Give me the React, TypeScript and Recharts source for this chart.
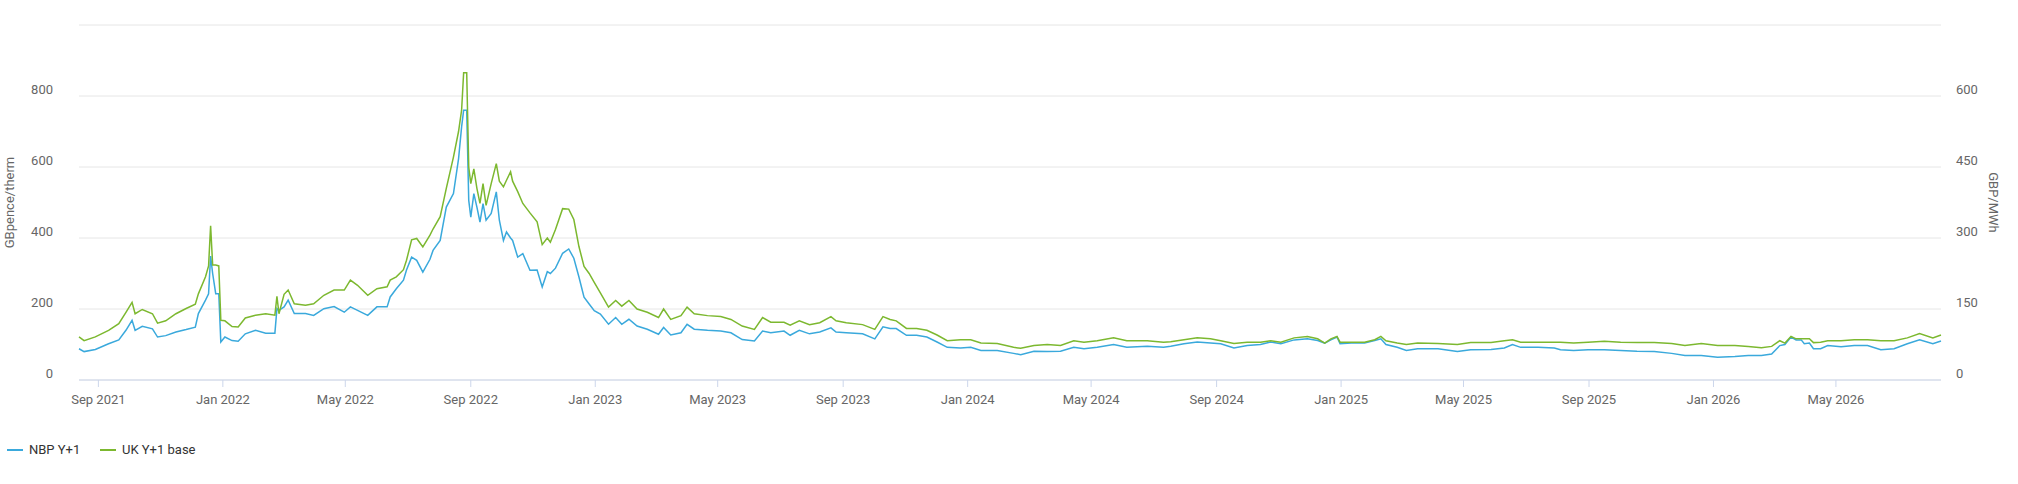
import { LineChart, Line, XAxis, YAxis, CartesianGrid } from "recharts";

// trading dates
const dates = [
  "2021-08-13", "2021-08-18", "2021-08-29", "2021-09-11", "2021-09-21", "2021-09-28", "2021-10-04", "2021-10-07",
  "2021-10-14", "2021-10-24", "2021-10-29", "2021-11-06", "2021-11-16", "2021-11-26", "2021-12-05", "2021-12-08",
  "2021-12-15", "2021-12-18", "2021-12-20", "2021-12-22", "2021-12-25", "2021-12-28", "2021-12-30", "2022-01-03",
  "2022-01-10", "2022-01-16", "2022-01-23", "2022-02-02", "2022-02-12", "2022-02-21", "2022-02-23", "2022-02-25",
  "2022-03-02", "2022-03-06", "2022-03-12", "2022-03-23", "2022-03-31", "2022-04-10", "2022-04-20", "2022-04-30",
  "2022-05-06", "2022-05-13", "2022-05-23", "2022-06-01", "2022-06-11", "2022-06-14", "2022-06-20", "2022-06-27",
  "2022-06-30", "2022-07-05", "2022-07-10", "2022-07-16", "2022-07-23", "2022-07-26", "2022-08-02", "2022-08-08",
  "2022-08-15", "2022-08-20", "2022-08-23", "2022-08-25", "2022-08-28", "2022-08-30", "2022-09-01", "2022-09-04",
  "2022-09-07", "2022-09-10", "2022-09-13", "2022-09-16", "2022-09-21", "2022-09-26", "2022-09-29", "2022-10-03",
  "2022-10-06", "2022-10-10", "2022-10-12", "2022-10-17", "2022-10-22", "2022-10-29", "2022-11-05", "2022-11-10",
  "2022-11-15", "2022-11-18", "2022-11-23", "2022-11-30", "2022-12-06", "2022-12-11", "2022-12-16", "2022-12-21",
  "2022-12-26", "2022-12-31", "2023-01-06", "2023-01-14", "2023-01-21", "2023-01-27", "2023-02-03", "2023-02-11",
  "2023-02-21", "2023-03-04", "2023-03-09", "2023-03-16", "2023-03-26", "2023-04-01", "2023-04-08", "2023-04-21",
  "2023-05-04", "2023-05-14", "2023-05-25", "2023-06-06", "2023-06-14", "2023-06-22", "2023-07-05", "2023-07-11",
  "2023-07-20", "2023-07-30", "2023-08-09", "2023-08-20", "2023-08-25", "2023-09-04", "2023-09-20", "2023-10-02",
  "2023-10-10", "2023-10-17", "2023-10-23", "2023-11-02", "2023-11-12", "2023-11-22", "2023-12-02", "2023-12-12",
  "2023-12-25", "2024-01-04", "2024-01-14", "2024-01-30", "2024-02-15", "2024-02-22", "2024-03-06", "2024-03-19",
  "2024-04-01", "2024-04-14", "2024-04-24", "2024-05-07", "2024-05-23", "2024-06-05", "2024-06-25", "2024-07-11",
  "2024-07-18", "2024-07-31", "2024-08-13", "2024-08-26", "2024-09-05", "2024-09-18", "2024-10-01", "2024-10-14",
  "2024-10-24", "2024-11-03", "2024-11-16", "2024-11-29", "2024-12-09", "2024-12-16", "2024-12-22", "2024-12-28",
  "2024-12-31", "2025-01-11", "2025-01-24", "2025-02-03", "2025-02-09", "2025-02-14", "2025-02-25", "2025-03-06",
  "2025-03-17", "2025-04-06", "2025-04-25", "2025-05-08", "2025-05-28", "2025-06-10", "2025-06-18", "2025-06-26",
  "2025-07-13", "2025-07-29", "2025-08-04", "2025-08-17", "2025-08-31", "2025-09-16", "2025-10-02", "2025-10-18",
  "2025-11-04", "2025-11-21", "2025-12-04", "2025-12-20", "2026-01-05", "2026-01-22", "2026-02-04", "2026-02-17",
  "2026-02-27", "2026-03-07", "2026-03-12", "2026-03-18", "2026-03-23", "2026-03-28", "2026-03-31", "2026-04-05",
  "2026-04-09", "2026-04-16", "2026-04-23", "2026-05-06", "2026-05-19", "2026-06-01", "2026-06-14", "2026-06-27",
  "2026-07-10", "2026-07-22", "2026-08-04", "2026-08-12",
];

// GBpence/therm
const nbpY1 = [
  88, 80, 86, 102, 113, 140, 168, 140, 151, 144, 121, 125, 135, 142, 149, 187,
  225, 243, 349, 300, 243, 243, 107, 121, 111, 109, 130, 140, 132, 132, 201, 196,
  206, 225, 187, 187, 182, 201, 207, 191, 206, 196, 182, 206, 206, 234, 257, 281,
  310, 346, 337, 304, 340, 365, 393, 487, 525, 623, 713, 760, 760, 506, 459, 525,
  487, 445, 497, 450, 469, 530, 450, 393, 417, 400, 393, 346, 356, 309, 310, 262,
  305, 300, 315, 357, 369, 343, 290, 233, 214, 195, 186, 157, 176, 157, 171, 152,
  143, 129, 148, 127, 133, 157, 143, 140, 138, 133, 114, 110, 138, 133, 138, 126,
  140, 130, 135, 147, 135, 133, 130, 116, 150, 145, 145, 126, 126, 121, 107, 92,
  90, 92, 83, 83, 75, 71, 81, 80, 81, 92, 88, 92, 100, 92, 95, 92,
  95, 102, 107, 104, 102, 90, 97, 100, 107, 102, 113, 116, 111, 104, 113, 121,
  102, 104, 104, 111, 116, 100, 92, 83, 88, 88, 80, 85, 86, 90, 100, 92,
  92, 90, 85, 83, 85, 85, 83, 81, 80, 75, 69, 69, 64, 66, 69, 69,
  73, 97, 100, 121, 113, 113, 102, 104, 88, 88, 97, 94, 97, 97, 85, 88,
  102, 113, 102, 110,
];

// GBP/MWh
const ukY1Base = [
  91, 83, 91, 105, 119, 143, 164, 140, 149, 140, 120, 125, 140, 151, 160, 182,
  218, 241, 326, 243, 243, 241, 126, 125, 113, 112, 131, 137, 140, 137, 177, 140,
  181, 190, 161, 158, 161, 179, 190, 190, 211, 200, 179, 193, 197, 211, 218, 233,
  253, 296, 299, 281, 306, 319, 345, 405, 471, 525, 570, 649, 649, 450, 415, 446,
  405, 373, 415, 369, 415, 457, 420, 408, 422, 440, 420, 398, 373, 353, 334, 286,
  300, 291, 318, 362, 361, 339, 282, 240, 225, 206, 184, 154, 168, 156, 168, 150,
  143, 132, 150, 128, 136, 154, 140, 136, 134, 128, 114, 107, 132, 122, 122, 116,
  125, 117, 121, 134, 125, 121, 117, 107, 134, 128, 125, 109, 109, 105, 95, 83,
  85, 85, 78, 77, 69, 67, 73, 75, 73, 83, 80, 83, 89, 83, 83, 80,
  81, 85, 89, 87, 83, 77, 80, 80, 83, 80, 89, 92, 87, 78, 87, 92,
  80, 80, 80, 85, 92, 83, 78, 75, 78, 77, 75, 79, 79, 83, 85, 80,
  80, 80, 80, 78, 80, 82, 80, 79, 79, 77, 73, 77, 73, 73, 71, 68,
  71, 83, 78, 92, 87, 87, 87, 87, 79, 80, 83, 83, 85, 85, 83, 83,
  89, 98, 89, 95,
];

const xTickDates = [
  "2021-09-01", "2022-01-01", "2022-05-01", "2022-09-01", "2023-01-01", "2023-05-01", "2023-09-01", "2024-01-01",
  "2024-05-01", "2024-09-01", "2025-01-01", "2025-05-01", "2025-09-01", "2026-01-01", "2026-05-01",
];
const leftTicks = [0, 200, 400, 600, 800, 1000];
const rightTicks = [0, 150, 300, 450, 600, 750];
const monthNames = ["Jan", "Feb", "Mar", "Apr", "May", "Jun", "Jul", "Aug", "Sep", "Oct", "Nov", "Dec"];

const data = dates.map((d, i) => ({ t: Date.parse(d), nbp: nbpY1[i], uk: ukY1Base[i] }));

const fmtMonth = (t: number) => {
  const d = new Date(t);
  return `${monthNames[d.getUTCMonth()]} ${d.getUTCFullYear()}`;
};

function YTick(props: any) {
  const { x, y, payload, textAnchor, hide } = props;
  if (payload.value === hide) return <g />;
  return (
    <text x={x} y={y - 2} textAnchor={textAnchor} fill="#666" fontSize={13} fontFamily="Roboto">
      {payload.value}
    </text>
  );
}

function AxisTitle(props: any) {
  const { viewBox, value, side } = props;
  const vb = viewBox ?? (side === "left" ? { x: 0, y: 25, width: 79, height: 355 } : { x: 1941, y: 25, width: 77, height: 355 });
  const cx = side === "left" ? vb.x + 14 : vb.x + 48;
  const cy = vb.y + vb.height / 2;
  return (
    <text
      x={cx}
      y={cy}
      transform={`rotate(${side === "left" ? -90 : 90} ${cx} ${cy})`}
      textAnchor="middle"
      fill="#666"
      fontSize={13}
      fontFamily="Roboto"
    >
      {value}
    </text>
  );
}

function LegendItem({ color, text, width }: { color: string; text: string; width: number }) {
  return (
    <div style={{ display: "flex", alignItems: "center", width }}>
      <div style={{ width: 16, height: 2, background: color, marginRight: 6 }} />
      <span>{text}</span>
    </div>
  );
}

export default function App() {
  return (
    <div style={{ position: "relative", width: 2018, height: 484, fontFamily: "Roboto", background: "#fff" }}>
      <style>{"body{margin:0}"}</style>
      <LineChart width={2018} height={430} data={data} margin={{ top: 25, right: 0, bottom: 10, left: 0 }}>
        <CartesianGrid yAxisId="left" vertical={false} stroke="#e6e6e6" />
        <XAxis
          dataKey="t"
          type="number"
          scale="time"
          domain={["dataMin", "dataMax"]}
          ticks={xTickDates.map((d) => Date.parse(d))}
          interval={0}
          tickFormatter={fmtMonth}
          height={40}
          tickSize={7}
          tickMargin={8}
          stroke="#ccd6eb"
          tick={{ fill: "#666", fontSize: 13, fontFamily: "Roboto" }}
        />
        <YAxis
          yAxisId="left"
          orientation="left"
          width={79}
          domain={[0, 1000]}
          ticks={leftTicks}
          axisLine={false}
          tickLine={false}
          tickSize={0}
          tickMargin={26}
          tick={(p: any) => <YTick {...p} hide={1000} />}
          label={<AxisTitle value="GBpence/therm" side="left" />}
        />
        <YAxis
          yAxisId="right"
          orientation="right"
          width={77}
          domain={[0, 750]}
          ticks={rightTicks}
          axisLine={false}
          tickLine={false}
          tickSize={0}
          tickMargin={15}
          tick={(p: any) => <YTick {...p} hide={750} />}
          label={<AxisTitle value="GBP/MWh" side="right" />}
        />
        <Line
          yAxisId="left"
          type="linear"
          dataKey="nbp"
          name="NBP Y+1"
          stroke="#3aa9dc"
          strokeWidth={1.5}
          dot={false}
          isAnimationActive={false}
        />
        <Line
          yAxisId="right"
          type="linear"
          dataKey="uk"
          name="UK Y+1 base"
          stroke="#7cb82f"
          strokeWidth={1.5}
          dot={false}
          isAnimationActive={false}
        />
      </LineChart>
      <div style={{ position: "absolute", left: 7, top: 442, display: "flex", fontSize: 13, color: "#333" }}>
        <LegendItem color="#3aa9dc" text="NBP Y+1" width={93} />
        <LegendItem color="#7cb82f" text="UK Y+1 base" width={120} />
      </div>
    </div>
  );
}
